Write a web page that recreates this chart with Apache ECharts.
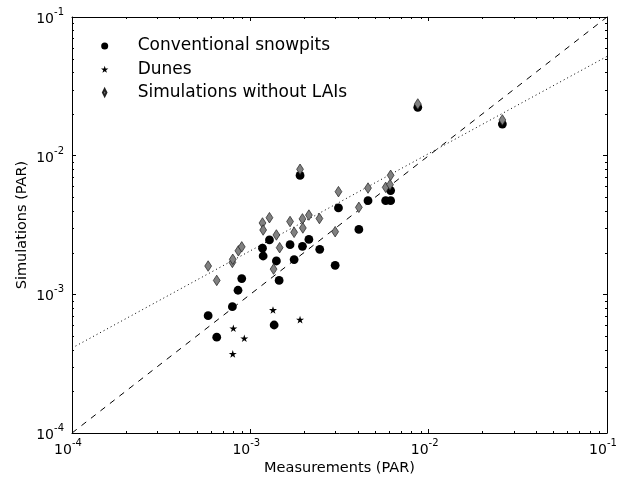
<!DOCTYPE html>
<html><head><meta charset="utf-8">
<script src="https://cdn.jsdelivr.net/npm/echarts@6/dist/echarts.min.js"></script>
<style>html,body{margin:0;padding:0;background:#fff}#c{width:617px;height:478px}</style>
</head><body><div id="c"></div>
<script>
// ---- data (log-log, PAR) ----
const snowpitX = [5.80e-4, 6.48e-4, 7.93e-4, 8.53e-4, 8.95e-4, 1.17e-3, 1.18e-3, 1.28e-3, 1.36e-3, 1.40e-3, 1.45e-3, 1.67e-3, 1.76e-3, 1.90e-3, 1.96e-3, 2.13e-3, 2.45e-3, 2.99e-3, 3.12e-3, 4.06e-3, 4.57e-3, 5.74e-3, 6.12e-3, 6.12e-3, 8.69e-3, 2.59e-2];
const snowpitY = [7.02e-4, 4.91e-4, 8.15e-4, 1.07e-3, 1.30e-3, 2.15e-3, 1.89e-3, 2.47e-3, 6.01e-4, 1.74e-3, 1.26e-3, 2.28e-3, 1.78e-3, 7.20e-3, 2.22e-3, 2.49e-3, 2.11e-3, 1.62e-3, 4.20e-3, 2.94e-3, 4.74e-3, 4.74e-3, 4.74e-3, 5.60e-3, 2.23e-2, 1.69e-2];
const dunesX = [1.34e-3, 1.90e-3, 8.03e-4, 9.25e-4, 7.97e-4];
const dunesY = [7.71e-4, 6.57e-4, 5.69e-4, 4.82e-4, 3.72e-4];
const simX = [5.80e-4, 6.48e-4, 7.93e-4, 7.97e-4, 8.57e-4, 8.95e-4, 1.17e-3, 1.18e-3, 1.28e-3, 1.35e-3, 1.40e-3, 1.46e-3, 1.67e-3, 1.76e-3, 1.90e-3, 1.96e-3, 1.97e-3, 2.13e-3, 2.44e-3, 2.99e-3, 3.12e-3, 4.06e-3, 4.57e-3, 5.74e-3, 6.07e-3, 6.12e-3, 8.69e-3, 2.59e-2];
const simY = [1.60e-3, 1.26e-3, 1.70e-3, 1.79e-3, 2.06e-3, 2.20e-3, 3.27e-3, 2.91e-3, 3.57e-3, 1.52e-3, 2.68e-3, 2.17e-3, 3.35e-3, 2.80e-3, 7.98e-3, 3.50e-3, 3.01e-3, 3.73e-3, 3.52e-3, 2.83e-3, 5.50e-3, 4.24e-3, 5.84e-3, 5.91e-3, 6.18e-3, 7.22e-3, 2.36e-2, 1.81e-2];
const oneToOneX = [1e-4, 1e-1];
const oneToOneY = [1e-4, 1e-1];
const fitX = [1e-4, 1e-1];
const fitY = [4.1e-4, 5.2e-2];
const axisMin = 1e-4, axisMax = 1e-1;
const seriesNames = ['Conventional snowpits', 'Dunes', 'Simulations without LAIs'];
const xName = 'Measurements (PAR)';
const yName = 'Simulations (PAR)';
const minorDecades = [1e-4, 1e-3, 1e-2];
const minorMults = [2, 3, 4, 5, 6, 7, 8, 9];

const zip = (a, b) => a.map((v, i) => [v, b[i]]);
const minorTicks = [];
minorDecades.forEach(d => minorMults.forEach(m => minorTicks.push([d * m, d * m])));

const starPath = 'path://M1000,0L1225,691L1951,691L1363,1118L1588,1809L1000,1382L412,1809L637,1118L49,691L775,691Z';
const diamondPath = 'path://M5,0L10,10L5,20L0,10Z';

const tickFmt = v => '{b|10}{s|' + Math.round(Math.log10(v)) + '}';
const tickRich = {
  b: { fontFamily: 'DejaVu Sans', fontSize: 14, color: '#000', padding: [5, 0, 0, 0], verticalAlign: 'bottom' },
  s: { fontFamily: 'DejaVu Sans', fontSize: 10, color: '#000', verticalAlign: 'top' }
};
const baseAxis = {
  type: 'log', logBase: 10, min: axisMin, max: axisMax,
  axisLine: { show: true, onZero: false, lineStyle: { color: '#000', width: 1 } },
  axisTick: { show: true, inside: true, length: 4, lineStyle: { color: '#000', width: 1 } },
  splitLine: { show: false }, minorTick: { show: false }
};

const chart = echarts.init(document.getElementById('c'), null, { renderer: 'canvas' });
chart.setOption({
  animation: false,
  backgroundColor: '#fff',
  textStyle: { fontFamily: 'DejaVu Sans' },
  grid: { left: 72, top: 17, width: 535, height: 416, containLabel: false, outerBoundsMode: 'none' },
  xAxis: [
    Object.assign({}, baseAxis, {
      position: 'bottom',
      axisLabel: { formatter: tickFmt, rich: tickRich, margin: 5, padding: [0, 8, 0, 0] },
      name: xName, nameLocation: 'middle', nameGap: 28, nameMoveOverlap: false,
      nameTextStyle: { fontFamily: 'DejaVu Sans', fontSize: 14.5, color: '#000' }
    }),
    Object.assign({}, baseAxis, { position: 'top', axisLabel: { show: false } })
  ],
  yAxis: [
    Object.assign({}, baseAxis, {
      position: 'left',
      axisLabel: { formatter: tickFmt, rich: tickRich, margin: 8 },
      name: yName, nameLocation: 'middle', nameGap: 42, nameMoveOverlap: false,
      nameTextStyle: { fontFamily: 'DejaVu Sans', fontSize: 14.5, color: '#000' }
    }),
    Object.assign({}, baseAxis, { position: 'right', axisLabel: { show: false } })
  ],
  legend: {
    orient: 'vertical', left: 96, top: 31,
    itemWidth: 56, itemHeight: 7, itemGap: 3.3,
    textStyle: { fontFamily: 'DejaVu Sans', fontSize: 17, color: '#000', lineHeight: 20 },
    data: [
      { name: seriesNames[0], icon: 'circle' },
      { name: seriesNames[1], icon: starPath },
      { name: seriesNames[2], icon: diamondPath }
    ]
  },
  series: [
    {
      type: 'custom', silent: true, clip: false, z: 5,
      data: minorTicks, encode: { x: 0, y: 1 },
      renderItem: (params, api) => {
        const v = api.value(0);
        const b = api.coord([v, axisMin]), t = api.coord([v, axisMax]);
        const l = api.coord([axisMin, v]), r = api.coord([axisMax, v]);
        const st = { stroke: '#000', lineWidth: 1 };
        const L = 2;
        return { type: 'group', children: [
          { type: 'line', shape: { x1: Math.round(b[0]) + 0.5, y1: b[1], x2: Math.round(b[0]) + 0.5, y2: b[1] - L }, style: st },
          { type: 'line', shape: { x1: Math.round(t[0]) + 0.5, y1: t[1], x2: Math.round(t[0]) + 0.5, y2: t[1] + L }, style: st },
          { type: 'line', shape: { x1: l[0], y1: Math.round(l[1]) + 0.5, x2: l[0] + L, y2: Math.round(l[1]) + 0.5 }, style: st },
          { type: 'line', shape: { x1: r[0], y1: Math.round(r[1]) + 0.5, x2: r[0] - L, y2: Math.round(r[1]) + 0.5 }, style: st }
        ]};
      }
    },
    {
      type: 'line', data: zip(oneToOneX, oneToOneY), symbol: 'none', silent: true,
      lineStyle: { color: '#000', width: 1, type: [6, 6] }, z: 2
    },
    {
      type: 'line', data: zip(fitX, fitY), symbol: 'none', silent: true,
      lineStyle: { color: '#000', width: 1, type: [1, 3] }, z: 2
    },
    {
      name: seriesNames[0], type: 'scatter', data: zip(snowpitX, snowpitY),
      symbol: 'circle', symbolSize: 8.8, itemStyle: { color: '#000', opacity: 1 }, z: 3
    },
    {
      name: seriesNames[1], type: 'scatter', data: zip(dunesX, dunesY),
      symbol: starPath, symbolSize: [8, 7.6], itemStyle: { color: '#000', opacity: 1 }, z: 3
    },
    {
      name: seriesNames[2], type: 'scatter', data: zip(simX, simY),
      symbol: diamondPath, symbolSize: [6.8, 10.5],
      itemStyle: { color: '#808080', borderColor: '#222', borderWidth: 0.7, opacity: 1 }, z: 4
    }
  ]
});
</script>
</body></html>
